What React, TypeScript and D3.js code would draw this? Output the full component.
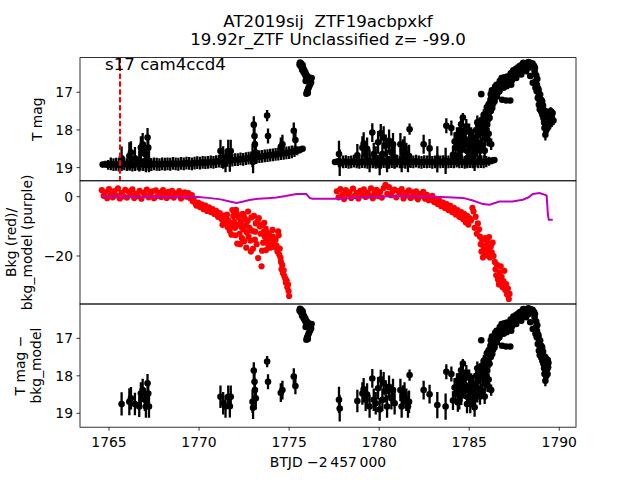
import React from "react";
import * as d3 from "d3";

// ---------------- DATA ----------------
// Top panel: dense TESS band (BTJD, T mag, err) — orbit 1
const bandOrbit1: [number, number, number][] = [
  [1764.65,18.92,0.05],[1764.80,18.91,0.09],[1764.95,18.93,0.13],[1765.10,18.90,0.17],[1765.25,18.92,0.17],
  [1765.40,18.91,0.17],[1765.55,18.93,0.17],[1765.70,18.92,0.17],[1765.85,18.90,0.17],[1766.00,18.92,0.17],
  [1766.15,18.91,0.17],[1766.30,18.93,0.17],[1766.45,18.92,0.17],[1766.60,18.90,0.17],[1766.75,18.91,0.17],
  [1766.90,18.92,0.17],[1767.05,18.93,0.17],[1767.20,18.91,0.17],[1767.35,18.92,0.17],[1767.50,18.90,0.17],
  [1767.65,18.91,0.17],[1767.80,18.92,0.17],[1767.95,18.90,0.17],[1768.10,18.91,0.17],[1768.25,18.90,0.17],
  [1768.40,18.91,0.17],[1768.55,18.89,0.17],[1768.70,18.90,0.17],[1768.85,18.91,0.17],[1769.00,18.89,0.17],
  [1769.15,18.90,0.17],[1769.30,18.88,0.17],[1769.45,18.89,0.17],[1769.60,18.90,0.17],[1769.75,18.88,0.17],
  [1769.90,18.87,0.17],[1770.05,18.88,0.17],[1770.20,18.86,0.17],[1770.35,18.87,0.17],[1770.50,18.86,0.17],
  [1770.65,18.85,0.17],[1770.80,18.86,0.17],[1770.95,18.84,0.17],[1771.10,18.83,0.17],[1771.25,18.84,0.17],
  [1771.40,18.82,0.17],[1771.55,18.81,0.17],[1771.70,18.82,0.17],[1771.85,18.80,0.17],[1772.00,18.79,0.17],
  [1772.15,18.79,0.17],[1772.30,18.77,0.17],[1772.45,18.78,0.17],[1772.60,18.76,0.17],[1772.75,18.75,0.17],
  [1772.90,18.74,0.17],[1773.05,18.73,0.17],[1773.20,18.72,0.17],[1773.35,18.71,0.17],[1773.50,18.70,0.17],
  [1773.65,18.69,0.17],[1773.80,18.68,0.17],[1773.95,18.67,0.17],[1774.10,18.66,0.17],[1774.25,18.65,0.17],
  [1774.40,18.64,0.17],[1774.55,18.63,0.17],[1774.70,18.62,0.17],[1774.85,18.61,0.17],[1775.00,18.60,0.17],
  [1775.15,18.58,0.17],[1775.30,18.57,0.15],[1775.45,18.55,0.12],[1775.60,18.53,0.09],[1775.75,18.50,0.05],
];

// Top panel: dense TESS band — orbit 2
const bandOrbit2: [number, number, number][] = [
  [1777.55,18.85,0.05],[1777.70,18.84,0.09],[1777.85,18.86,0.13],[1778.00,18.85,0.17],[1778.15,18.84,0.17],
  [1778.30,18.86,0.17],[1778.45,18.85,0.17],[1778.60,18.83,0.17],[1778.75,18.85,0.17],[1778.90,18.86,0.17],
  [1779.05,18.84,0.17],[1779.20,18.85,0.17],[1779.35,18.86,0.17],[1779.50,18.84,0.17],[1779.65,18.85,0.17],
  [1779.80,18.83,0.17],[1779.95,18.85,0.17],[1780.10,18.86,0.17],[1780.25,18.84,0.17],[1780.40,18.85,0.17],
  [1780.55,18.86,0.17],[1780.70,18.84,0.17],[1780.85,18.85,0.17],[1781.00,18.83,0.17],[1781.15,18.85,0.17],
  [1781.30,18.84,0.17],[1781.45,18.86,0.17],[1781.60,18.85,0.17],[1781.75,18.84,0.17],[1781.90,18.85,0.17],
  [1782.05,18.83,0.17],[1782.20,18.85,0.17],[1782.35,18.86,0.17],[1782.50,18.84,0.17],[1782.65,18.85,0.17],
  [1782.80,18.84,0.17],[1782.95,18.86,0.17],[1783.10,18.85,0.17],[1783.25,18.83,0.17],[1783.40,18.85,0.17],
  [1783.55,18.84,0.17],[1783.70,18.86,0.17],[1783.85,18.85,0.17],[1784.00,18.84,0.17],[1784.15,18.85,0.17],
  [1784.30,18.83,0.17],[1784.45,18.85,0.17],[1784.60,18.84,0.17],[1784.75,18.86,0.17],[1784.90,18.85,0.17],
  [1785.05,18.84,0.17],[1785.20,18.85,0.17],[1785.35,18.83,0.17],[1785.50,18.85,0.17],[1785.65,18.84,0.17],
  [1785.80,18.85,0.17],[1785.95,18.84,0.15],[1786.10,18.83,0.12],[1786.25,18.82,0.09],[1786.40,18.80,0.05],
];

// Significant detections (shown in top and bottom panels): BTJD, mag, err
const detections: [number, number, number][] = [
  // orbit 1 outliers
  [1765.70,18.75,0.31],[1766.13,18.69,0.36],[1766.22,18.60,0.30],[1766.44,18.75,0.30],[1766.68,18.82,0.28],
  [1766.77,18.47,0.30],[1766.87,18.38,0.30],[1766.99,18.64,0.30],[1767.05,18.82,0.30],[1767.14,18.20,0.25],
  [1767.18,18.47,0.30],[1767.22,18.82,0.30],
  [1771.19,18.56,0.30],[1771.34,18.73,0.30],[1771.47,18.82,0.30],[1771.62,18.56,0.30],[1771.71,18.81,0.30],
  [1771.76,18.56,0.30],
  [1772.97,18.69,0.30],[1773.00,18.85,0.30],[1773.04,17.86,0.22],[1773.08,18.16,0.25],[1773.10,18.38,0.30],
  [1773.15,18.60,0.30],[1773.78,17.62,0.15],[1773.83,18.16,0.20],[1774.54,18.45,0.25],[1774.63,18.38,0.25],
  [1775.26,18.02,0.22],[1775.35,18.27,0.22],
  // bright cluster at end of orbit 1
  [1775.58,16.26,0.04],[1775.61,16.21,0.04],[1775.64,16.30,0.04],[1775.67,16.24,0.04],[1775.70,16.33,0.04],
  [1775.72,16.40,0.04],[1775.75,16.28,0.04],[1775.78,16.36,0.04],[1775.80,16.46,0.04],[1775.84,16.42,0.04],
  [1775.87,16.52,0.04],[1775.90,16.47,0.04],[1775.93,16.58,0.04],[1775.96,16.54,0.04],[1776.00,16.62,0.04],
  [1776.04,16.58,0.04],[1776.08,16.66,0.04],[1776.12,16.62,0.04],[1776.16,16.70,0.04],[1776.20,16.66,0.04],
  [1776.22,16.74,0.04],[1776.25,16.62,0.04],[1776.16,16.80,0.04],[1776.10,16.86,0.04],[1776.05,16.92,0.04],
  [1776.00,16.98,0.04],[1775.96,17.04,0.04],[1776.04,17.02,0.04],[1775.92,16.70,0.04],
  // orbit 2 outliers
  [1777.77,18.64,0.35],[1777.81,18.87,0.35],[1778.79,18.67,0.30],[1779.07,18.47,0.30],[1779.14,18.36,0.30],
  [1779.25,18.64,0.30],[1779.33,18.50,0.30],[1779.47,18.82,0.30],[1779.62,18.07,0.25],[1779.70,18.64,0.30],
  [1779.81,18.73,0.30],[1779.94,18.33,0.30],[1780.03,18.90,0.30],[1780.09,18.09,0.25],[1780.18,18.64,0.30],
  [1780.25,18.20,0.30],[1780.36,18.42,0.30],[1780.44,18.82,0.30],[1780.55,18.29,0.30],[1780.68,18.60,0.30],
  [1780.77,18.38,0.30],[1780.86,18.73,0.30],[1781.18,18.38,0.30],[1781.25,18.82,0.30],[1781.32,18.55,0.30],
  [1781.41,18.47,0.30],[1781.51,18.64,0.30],[1781.60,18.82,0.30],[1781.66,18.69,0.30],[1781.69,17.98,0.15],
  [1782.47,18.38,0.25],[1782.80,18.49,0.25],[1783.23,18.78,0.35],[1783.69,18.82,0.35],[1783.73,17.89,0.20],
  [1784.01,17.95,0.20],
  // rise to outburst
  [1784.10,18.66,0.25],[1784.19,18.31,0.25],[1784.24,18.48,0.25],[1784.32,18.13,0.20],[1784.37,18.71,0.25],
  [1784.43,18.35,0.22],[1784.50,18.00,0.20],[1784.56,18.53,0.25],[1784.61,18.22,0.20],[1784.65,17.67,0.12],
  [1784.71,18.08,0.20],[1784.76,18.40,0.22],[1784.84,17.91,0.20],[1784.93,18.57,0.25],[1785.02,18.31,0.22],
  [1785.06,18.75,0.25],[1785.11,18.13,0.20],[1785.17,18.44,0.22],[1785.24,18.66,0.25],[1785.30,18.84,0.25],
  [1785.35,18.26,0.20],[1785.39,18.00,0.18],[1785.45,18.49,0.22],[1785.50,18.13,0.20],[1785.57,17.86,0.18],
  [1785.63,18.35,0.20],[1785.67,17.05,0.05],[1785.70,17.73,0.15],[1785.76,18.08,0.18],[1785.81,17.60,0.15],
  [1785.89,18.22,0.18],[1785.94,17.51,0.12],[1786.00,17.86,0.15],[1786.07,17.33,0.10],[1786.13,17.68,0.12],
  [1786.18,17.20,0.08],[1786.22,18.38,0.15],[1786.28,17.42,0.10],[1786.31,17.06,0.07],[1786.41,17.24,0.07],
  [1786.46,16.93,0.06],[1786.54,17.11,0.06],[1786.61,16.84,0.05],[1786.68,16.97,0.05],[1786.78,16.75,0.05],
  [1786.83,17.20,0.05],[1786.91,16.88,0.05],[1786.98,16.71,0.05],[1787.05,17.22,0.05],[1787.09,16.84,0.05],
  [1787.20,16.66,0.05],[1787.28,17.22,0.05],[1787.33,16.80,0.05],[1787.42,16.57,0.04],[1787.52,16.48,0.04],
  [1787.61,16.62,0.04],[1787.70,16.44,0.04],[1787.79,16.40,0.04],[1787.89,16.53,0.04],[1787.98,16.35,0.04],
  [1788.07,16.31,0.04],[1788.16,16.44,0.04],[1788.20,16.26,0.04],[1788.31,16.35,0.04],[1788.39,16.57,0.04],
  [1788.44,16.28,0.04],[1788.53,16.75,0.04],[1788.57,16.31,0.04],[1788.63,16.44,0.04],[1788.68,16.88,0.05],
  [1788.75,16.97,0.05],[1788.81,17.15,0.06],[1788.87,17.33,0.07],[1788.94,17.06,0.06],[1789.00,17.51,0.08],
  [1789.05,17.24,0.07],[1789.12,17.68,0.10],[1789.18,17.95,0.12],[1789.23,18.13,0.15],[1789.27,17.60,0.10],
  [1789.33,17.82,0.12],[1789.38,17.77,0.12],
  [1785.98,17.40,0.10],[1786.03,17.55,0.10],[1786.10,17.45,0.10],[1786.16,17.35,0.08],[1786.20,17.50,0.10],
  [1786.25,17.12,0.07],[1786.35,17.02,0.06],[1786.38,17.18,0.07],[1786.50,16.98,0.06],[1786.58,16.92,0.05],
  [1786.65,16.78,0.05],[1786.72,16.86,0.05],[1786.88,16.70,0.05],[1787.00,16.80,0.05],[1787.15,16.70,0.05],
  [1787.25,16.62,0.05],[1787.38,16.68,0.05],[1787.47,16.55,0.04],[1787.57,16.52,0.04],[1787.66,16.50,0.04],
  [1787.75,16.48,0.04],[1787.85,16.38,0.04],[1787.94,16.42,0.04],[1788.03,16.38,0.04],[1788.12,16.30,0.04],
  [1788.25,16.32,0.04],[1788.36,16.25,0.04],[1788.48,16.30,0.04],[1788.60,16.30,0.04],[1788.72,16.55,0.04],
  [1788.78,16.65,0.05],[1788.85,16.95,0.05],[1788.90,17.20,0.06],[1788.97,17.30,0.07],[1789.02,17.40,0.08],
  [1789.08,17.45,0.08],[1789.15,17.55,0.10],[1789.20,17.75,0.10],[1789.25,17.90,0.12],[1789.30,17.70,0.10],
  [1789.35,17.95,0.12],[1789.40,17.65,0.10],
  [1785.85,17.95,0.15],[1785.92,17.70,0.14],[1786.05,17.62,0.12],[1786.12,17.30,0.10],[1786.20,17.05,0.08],
  [1786.26,16.95,0.07],[1786.33,17.30,0.08],[1786.44,16.85,0.06],[1786.52,16.80,0.06],[1786.60,17.00,0.06],
  [1786.70,16.70,0.05],[1786.80,16.62,0.05],[1786.95,16.60,0.05],[1787.10,16.58,0.05],[1787.30,16.50,0.05],
  [1787.45,16.42,0.04],[1787.60,16.38,0.04],[1787.72,16.34,0.04],[1787.82,16.30,0.04],[1787.92,16.28,0.04],
  [1788.00,16.22,0.04],[1788.10,16.24,0.04],[1788.28,16.20,0.04],[1788.40,16.22,0.04],[1788.52,16.24,0.04],
  [1788.65,16.35,0.04],[1788.70,16.70,0.05],[1788.76,16.80,0.05],[1788.83,16.90,0.05],[1788.88,17.05,0.06],
  [1788.92,17.45,0.08],[1789.00,17.20,0.07],[1789.06,17.60,0.09],[1789.10,17.35,0.08],[1789.16,17.80,0.10],
  [1789.22,17.50,0.10],[1789.28,18.00,0.12],[1789.36,17.58,0.10],
  [1785.45,17.80,0.18],[1785.55,17.95,0.20],[1785.60,18.55,0.22],[1785.72,18.40,0.20],[1785.80,17.85,0.18],
  [1785.86,18.55,0.20],[1785.95,18.05,0.18],[1786.02,18.25,0.18],[1786.08,18.10,0.16],[1785.32,18.55,0.22],
  [1785.20,18.20,0.22],[1785.00,18.05,0.22],[1784.88,18.75,0.25],[1784.80,18.25,0.22],[1784.45,18.65,0.25],
  [1784.55,17.85,0.20],
];

// Last points, only in the raw light curve (top panel)
const tailTopOnly: [number, number, number][] = [
  [1789.45,17.60,0.10],[1789.50,17.85,0.12],[1789.52,17.50,0.10],[1789.58,17.65,0.10],
  [1789.63,17.55,0.10],[1789.68,17.75,0.12],
];

// Middle panel: background flux (red points): BTJD, bkg
const bkgPoints: [number, number][] = [
  [1764.6,2.2],[1764.7,0.3],[1764.8,1.5],[1764.9,-0.5],[1765.0,2.6],[1765.1,0.8],[1765.2,-0.2],[1765.3,1.9],[1765.4,0.4],[1765.5,2.8],
  [1765.6,-0.6],[1765.7,1.2],[1765.8,0.1],[1765.9,2.3],[1766.0,-0.3],[1766.1,1.7],[1766.2,0.6],[1766.3,2.5],[1766.4,-0.4],[1766.5,1.0],
  [1766.6,0.2],[1766.7,2.0],[1766.8,-0.7],[1766.9,1.4],[1767.0,0.5],[1767.1,2.4],[1767.2,-0.2],[1767.3,0.9],[1767.4,1.8],[1767.5,-0.5],
  [1767.6,2.1],[1767.7,0.3],[1767.8,1.3],[1767.9,-0.1],[1768.0,2.2],[1768.1,0.7],[1768.2,-0.4],[1768.3,1.6],[1768.4,0.2],[1768.5,2.0],
  [1768.6,-0.3],[1768.7,1.1],[1768.8,0.5],[1768.9,1.9],[1769.0,-0.6],[1769.1,0.8],[1769.2,1.5],[1769.3,0.0],[1769.4,1.2],[1769.5,-0.4],
  [1769.6,0.5],[1769.65,-1.5],[1769.7,-0.8],[1769.8,-2.2],[1769.85,-3.0],[1769.95,-2.0],[1770.05,-3.5],[1770.15,-2.6],[1770.25,-4.2],
  [1770.35,-3.0],[1770.45,-4.8],[1770.55,-3.6],[1770.65,-5.2],[1770.75,-4.2],[1770.85,-5.8],[1770.95,-4.8],[1771.05,-6.8],[1771.15,-5.5],
  [1771.25,-7.5],[1771.35,-6.4],[1771.42,-8.8],[1771.5,-7.2],[1771.58,-10.2],[1771.62,-8.0],[1771.7,-11.5],[1771.75,-9.0],[1771.8,-12.8],
  [1771.85,-4.5],[1771.9,-6.5],[1771.95,-8.5],[1772.0,-10.5],[1772.05,-4.4],[1772.1,-5.8],[1772.15,-9.5],[1772.2,-7.0],[1772.25,-12.5],
  [1772.28,-16.0],[1772.32,-8.5],[1772.38,-14.0],[1772.42,-5.8],[1772.45,-11.0],[1772.5,-15.0],[1772.55,-7.5],[1772.6,-9.6],[1772.65,-12.0],
  [1772.7,-8.2],[1772.75,-13.5],[1772.8,-10.5],[1772.85,-14.8],[1772.9,-7.0],[1772.95,-11.5],[1773.0,-17.5],[1773.05,-6.5],[1773.1,-14.5],
  [1773.15,-9.0],[1773.2,-16.0],[1773.28,-20.7],[1773.32,-7.2],[1773.37,-10.0],[1773.42,-12.5],[1773.47,-23.5],[1773.52,-9.5],[1773.56,-15.5],
  [1773.6,-11.8],[1773.65,-13.5],[1773.7,-10.8],[1773.75,-15.0],[1773.8,-12.2],[1773.85,-16.5],[1773.9,-13.0],[1773.95,-17.2],[1774.0,-14.2],
  [1774.05,-16.0],[1774.1,-13.5],[1774.15,-15.2],[1774.2,-17.0],[1774.25,-14.5],[1774.3,-16.5],[1774.35,-18.5],[1774.39,-11.7],[1774.42,-13.0],
  [1774.45,-19.5],[1774.48,-17.5],[1774.52,-20.5],[1774.55,-22.0],[1774.58,-24.5],[1774.62,-23.0],[1774.66,-25.8],[1774.7,-24.8],[1774.74,-26.8],
  [1774.78,-27.6],[1774.82,-29.0],[1774.86,-28.2],[1774.9,-30.5],[1774.94,-29.6],[1774.97,-31.8],[1775.0,-33.5],
  [1771.3,-9.5],[1771.55,-6.0],[1771.88,-10.0],[1772.02,-13.0],[1772.12,-15.8],[1772.35,-10.2],[1772.48,-6.5],[1772.62,-17.2],
  [1772.72,-5.0],[1772.88,-18.5],[1773.12,-11.8],[1773.25,-8.4],[1773.5,-18.2],[1773.62,-8.8],[1773.72,-18.0],[1774.08,-11.2],
  [1777.65,1.8],[1777.75,-0.2],[1777.85,2.6],[1777.95,0.6],[1778.05,-0.8],[1778.15,2.2],[1778.25,0.9],[1778.35,1.5],[1778.45,-0.4],[1778.55,2.7],
  [1778.65,0.3],[1778.75,1.2],[1778.85,-0.6],[1778.95,2.0],[1779.05,0.8],[1779.15,2.5],[1779.25,-0.1],[1779.35,1.4],[1779.45,0.4],[1779.55,2.8],
  [1779.65,-0.5],[1779.75,1.1],[1779.85,2.3],[1779.95,0.2],[1780.05,1.6],[1780.15,-0.3],[1780.25,2.9],[1780.35,4.0],[1780.45,1.0],[1780.55,3.2],
  [1780.65,0.5],[1780.75,1.8],[1780.85,2.4],[1780.95,-0.2],[1781.05,1.9],[1781.15,0.9],[1781.25,2.6],[1781.35,-0.6],[1781.45,1.3],[1781.55,0.4],
  [1781.65,2.1],[1781.75,-0.4],[1781.85,1.5],[1781.95,0.1],[1782.05,1.8],[1782.15,-0.9],[1782.25,1.0],[1782.35,0.3],[1782.45,1.6],[1782.55,-0.7],
  [1782.65,0.6],[1782.75,-1.2],
  [1782.85,-0.5],[1782.95,0.3],[1783.05,-1.8],[1783.15,-0.9],[1783.25,-2.5],[1783.35,-1.4],[1783.45,-3.2],[1783.55,-2.0],[1783.65,-3.8],
  [1783.75,-2.5],[1783.85,-4.5],[1783.95,-3.1],[1784.05,-5.2],[1784.15,-3.8],[1784.25,-6.0],[1784.35,-4.5],[1784.45,-6.8],[1784.55,-5.2],
  [1784.65,-7.5],[1784.72,-5.8],[1784.8,-8.6],[1784.88,-6.5],[1784.95,-9.4],[1785.02,-7.2],[1785.1,-8.0],[1785.18,-3.8],[1785.24,-5.0],
  [1785.3,-10.5],[1785.36,-6.8],[1785.42,-12.5],[1785.48,-9.0],[1785.55,-11.0],[1785.6,-13.5],[1785.64,-16.0],[1785.68,-18.5],[1785.72,-14.5],
  [1785.76,-20.5],[1785.8,-17.0],[1785.84,-19.0],[1785.88,-14.0],[1785.92,-16.5],[1785.96,-19.8],[1786.0,-15.0],[1786.05,-18.0],[1786.1,-13.6],
  [1786.15,-20.5],[1786.2,-16.8],[1786.25,-18.8],[1786.3,-15.5],[1786.35,-20.0],[1786.42,-22.0],[1786.46,-24.5],[1786.5,-26.5],[1786.55,-23.0],
  [1786.6,-28.0],[1786.65,-29.6],[1786.7,-25.5],[1786.75,-23.5],[1786.8,-27.0],[1786.85,-30.5],[1786.9,-28.5],[1786.95,-25.0],[1787.0,-31.5],
  [1787.05,-29.5],[1787.1,-33.0],[1787.15,-31.0],[1787.2,-34.5],[1787.24,-32.8],
];

// Middle panel: background model (purple line)
const bkgModel: [number, number][] = [
  [1764.60,0.1],[1765.5,0.15],[1766.5,0.0],[1767.5,0.1],[1768.5,-0.05],[1769.5,0.0],[1769.95,-0.1],[1770.5,-0.4],
  [1771.2,-0.9],[1771.7,-1.6],[1772.08,-2.1],[1772.4,-1.7],[1772.8,-1.1],[1773.3,-0.7],[1773.8,-0.5],[1774.3,-0.3],
  [1774.8,0.2],[1775.41,0.9],[1775.96,0.9],[1776.15,-0.45],[1776.3,-0.66],[1777.63,-0.66],[1778.2,-0.5],[1779.0,-0.3],
  [1780.0,0.0],[1781.0,0.2],[1782.0,0.15],[1783.0,0.0],[1783.8,-0.2],[1784.65,-0.4],[1785.2,-1.3],[1785.76,-2.5],
  [1786.13,-2.7],[1786.68,-1.6],[1787.4,-1.6],[1787.98,-1.0],[1788.3,-0.2],[1788.53,0.9],[1788.9,1.25],[1789.18,0.7],
  [1789.3,0.4],[1789.37,-6.1],[1789.42,-7.8],[1789.64,-7.8],
];

const xTicks = [1765, 1770, 1775, 1780, 1785, 1790];
const magTicks = [17, 18, 19];
const bkgTicks = [0, -20];
const sectorStart = 1765.61;
const sectorLabel = "s17 cam4ccd4";
const titleLine1 = "AT2019sij  ZTF19acbpxkf";
const titleLine2 = "19.92r_ZTF Unclassified z= -99.0";
const xLabel = "BTJD \u22122\u2009457\u2009000";

// ---------------- LAYOUT ----------------
const W = 640, H = 480;
const AX_L = 80, AX_R = 576, AX_T = 57.6, AX_B = 427.2;
const PH = (AX_B - AX_T) / 3;
const FONT = "DejaVu Sans, Liberation Sans, sans-serif";
const MARK_R = 3.3;
const minus = (v: number) => (v < 0 ? "\u2212" + Math.abs(v) : String(v));

function ErrPoints({ data, x, y, r }: { data: [number, number, number][]; x: any; y: any; r: number }) {
  return (
    <g>
      {data.map((d, i) => (
        <line key={"e" + i} x1={x(d[0])} x2={x(d[0])} y1={y(d[1] - d[2])} y2={y(d[1] + d[2])} stroke="#000" strokeWidth={2.3} />
      ))}
      {data.map((d, i) => (
        <circle key={"c" + i} cx={x(d[0])} cy={y(d[1])} r={r} fill="#000" />
      ))}
    </g>
  );
}

export default function App() {
  const x = d3.scaleLinear().domain([1763.39, 1790.93]).range([AX_L, AX_R]);
  const t1 = AX_T, t2 = AX_T + PH, t3 = AX_T + 2 * PH;
  const yTop = d3.scaleLinear().domain([16.08, 19.35]).range([t1, t2]);
  const yBkg = d3.scaleLinear().domain([5.36, -36.19]).range([t2, t3]);
  const yBot = d3.scaleLinear().domain([16.085, 19.37]).range([t3, AX_B]);
  const modelLine = d3.line<[number, number]>().x((d) => x(d[0])).y((d) => yBkg(d[1]));

  const yTickLabels = (scale: any, ticks: number[]) =>
    ticks.map((v) => (
      <g key={v}>
        <line x1={AX_L - 3.5} x2={AX_L} y1={scale(v)} y2={scale(v)} stroke="#000" strokeWidth={0.8} />
        <text x={AX_L - 7} y={scale(v) + 5} textAnchor="end" fontSize={13.9} fontFamily={FONT}>
          {minus(v)}
        </text>
      </g>
    ));

  return (
    <svg width={W} height={H} style={{ position: "absolute", left: 0, top: 0, background: "#fff" }}>
      <defs>
        <clipPath id="c1"><rect x={AX_L} y={t1} width={AX_R - AX_L} height={PH} /></clipPath>
        <clipPath id="c2"><rect x={AX_L} y={t2} width={AX_R - AX_L} height={PH} /></clipPath>
        <clipPath id="c3"><rect x={AX_L} y={t3} width={AX_R - AX_L} height={PH} /></clipPath>
      </defs>
      <rect x={0} y={0} width={W} height={H} fill="#fff" />

      {/* Title */}
      <text x={(AX_L + AX_R) / 2} y={26.5} textAnchor="middle" fontSize={16.67} fontFamily={FONT} style={{ whiteSpace: "pre" }}>
        {titleLine1}
      </text>
      <text x={(AX_L + AX_R) / 2} y={44.5} textAnchor="middle" fontSize={16.67} fontFamily={FONT}>
        {titleLine2}
      </text>

      {/* Panel 1 */}
      <g clipPath="url(#c1)">
        <ErrPoints data={bandOrbit1} x={x} y={yTop} r={MARK_R} />
        <ErrPoints data={bandOrbit2} x={x} y={yTop} r={MARK_R} />
        <ErrPoints data={detections} x={x} y={yTop} r={MARK_R} />
        <ErrPoints data={tailTopOnly} x={x} y={yTop} r={MARK_R} />
        <line x1={x(sectorStart)} x2={x(sectorStart)} y1={t1} y2={t2} stroke="#ff0000" strokeWidth={2} strokeDasharray="5.5,2.4" />
      </g>
      <text x={105} y={70} fontSize={16.67} fontFamily={FONT}>{sectorLabel}</text>

      {/* Panel 2 */}
      <g clipPath="url(#c2)">
        {bkgPoints.map((d, i) => (
          <circle key={i} cx={x(d[0])} cy={yBkg(d[1])} r={3.1} fill="#ff0000" />
        ))}
        <path d={modelLine(bkgModel) || ""} fill="none" stroke="#bf00bf" strokeWidth={2} />
      </g>

      {/* Panel 3 */}
      <g clipPath="url(#c3)">
        <ErrPoints data={detections} x={x} y={yBot} r={MARK_R} />
      </g>

      {/* Frames */}
      {[t1, t2, t3].map((t) => (
        <rect key={t} x={AX_L} y={t} width={AX_R - AX_L} height={PH} fill="none" stroke="#000" strokeWidth={0.8} />
      ))}

      {/* Y ticks */}
      {yTickLabels(yTop, magTicks)}
      {yTickLabels(yBkg, bkgTicks)}
      {yTickLabels(yBot, magTicks)}

      {/* X ticks */}
      {xTicks.map((v) => (
        <g key={v}>
          <line x1={x(v)} x2={x(v)} y1={AX_B} y2={AX_B + 3.5} stroke="#000" strokeWidth={0.8} />
          <text x={x(v)} y={447} textAnchor="middle" fontSize={13.9} fontFamily={FONT}>{v}</text>
        </g>
      ))}
      <text x={(AX_L + AX_R) / 2} y={467} textAnchor="middle" fontSize={13.9} fontFamily={FONT}>{xLabel}</text>

      {/* Y labels */}
      <text transform={`translate(42,${(t1 + t2) / 2}) rotate(-90)`} textAnchor="middle" fontSize={13.9} fontFamily={FONT}>T mag</text>
      <text transform={`translate(15.5,${(t2 + t3) / 2}) rotate(-90)`} textAnchor="middle" fontSize={13.9} fontFamily={FONT}>Bkg (red)/</text>
      <text transform={`translate(32,${(t2 + t3) / 2}) rotate(-90)`} textAnchor="middle" fontSize={13.9} fontFamily={FONT}>bkg_model (purple)</text>
      <text transform={`translate(24.5,${(t3 + AX_B) / 2}) rotate(-90)`} textAnchor="middle" fontSize={13.9} fontFamily={FONT}>T mag −</text>
      <text transform={`translate(41,${(t3 + AX_B) / 2}) rotate(-90)`} textAnchor="middle" fontSize={13.9} fontFamily={FONT}>bkg_model</text>
    </svg>
  );
}
